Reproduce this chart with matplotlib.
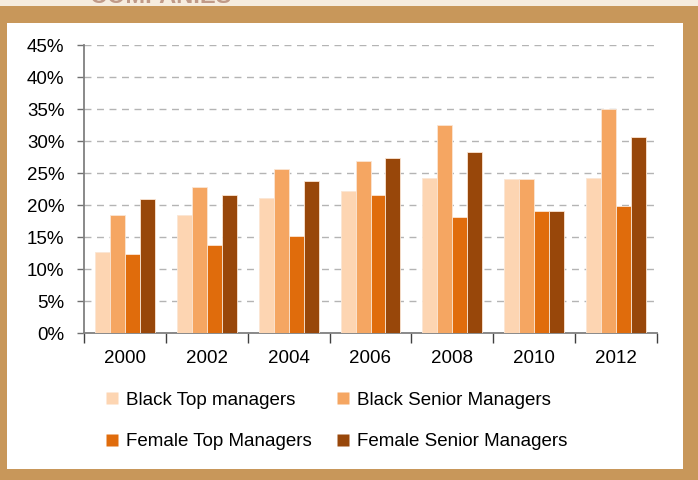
import matplotlib.pyplot as plt
from matplotlib.patches import Rectangle
from matplotlib.lines import Line2D
import numpy as np

years = ["2000", "2002", "2004", "2006", "2008", "2010", "2012"]
black_top = [12.7, 18.4, 21.1, 22.2, 24.2, 24.1, 24.2]
black_senior = [18.5, 22.8, 25.7, 26.9, 32.5, 24.1, 35.0]
female_top = [12.4, 13.7, 15.1, 21.6, 18.2, 19.0, 19.8]
female_senior = [21.0, 21.6, 23.7, 27.4, 28.3, 19.0, 30.7]

series_names = ["Black Top managers", "Black Senior Managers",
                "Female Top Managers", "Female Senior Managers"]
colors = ["#fdd5b2", "#f5a662", "#e06c0c", "#98470a"]

plt.rcParams['font.family'] = ['Liberation Sans', 'DejaVu Sans']

fig = plt.figure(figsize=(6.98, 4.8), dpi=100, facecolor="#c8975a")
W, H = 698, 480
# cream strip at top and white panel
fig.patches.append(Rectangle((0, 1 - 6 / H), 1, 6 / H, transform=fig.transFigure,
                             facecolor="#f6ecde", edgecolor="none", zorder=-10))
fig.patches.append(Rectangle((7 / W, 1 - 469 / H), (683 - 7) / W, (469 - 23) / H,
                             transform=fig.transFigure, facecolor="white",
                             edgecolor="none", zorder=-10))
# title cut off at the top of the picture
fig.text(90 / W, 1 - 3 / H, "COMPANIES", fontsize=17, fontweight="bold",
         color="#c09a88", va="baseline", ha="left", zorder=-5)

ax = fig.add_axes([84 / W, 1 - 333 / H, (657 - 84) / W, 288 / H])
ax.set_facecolor("none")
ax.set_zorder(1)

x = np.arange(len(years))
bw = 0.183
all_series = [black_top, black_senior, female_top, female_senior]
for i, (vals, c) in enumerate(zip(all_series, colors)):
    ax.bar(x + (i - 1.5) * bw, vals, bw, color=c, edgecolor="#fbe6d4",
           linewidth=0.6, zorder=3)

ax.set_xlim(-0.5, len(years) - 0.5)
ax.set_ylim(0, 45)
ax.set_yticks(np.arange(0, 46, 5))
ax.set_yticklabels([f"{v}%" for v in range(0, 46, 5)], fontsize=13.5)
ax.yaxis.grid(True, color="#b4b4b4", linestyle=(0, (5, 4)), linewidth=1, zorder=0)
ax.set_axisbelow(True)

ax.set_xticks(x)
ax.set_xticklabels(years, fontsize=13.5)
ax.set_xticks(np.arange(-0.5, len(years), 1), minor=True)
ax.tick_params(axis="x", which="major", length=0, pad=12)
ax.tick_params(axis="x", which="minor", length=7, color="#404040", width=1)
ax.tick_params(axis="y", length=5, color="#707070", width=1, pad=9)

for s in ["top", "right"]:
    ax.spines[s].set_visible(False)
ax.spines["left"].set_color("#808080")
ax.spines["bottom"].set_color("#808080")
ax.spines["left"].set_linewidth(1.3)
ax.spines["bottom"].set_linewidth(1.3)

handles = [Line2D([], [], marker="s", linestyle="none", markersize=9,
                  markerfacecolor=c, markeredgecolor="none") for c in colors]
order = [0, 2, 1, 3]
fig.legend([handles[i] for i in order], [series_names[i] for i in order],
           ncol=2, loc="upper left",
           bbox_to_anchor=(88 / W, 1 - 375 / H), frameon=False, fontsize=13.5,
           handlelength=0.8, handletextpad=0.35, columnspacing=1.25,
           labelspacing=1.3)

fig.savefig("out.png", dpi=100, facecolor=fig.get_facecolor())
